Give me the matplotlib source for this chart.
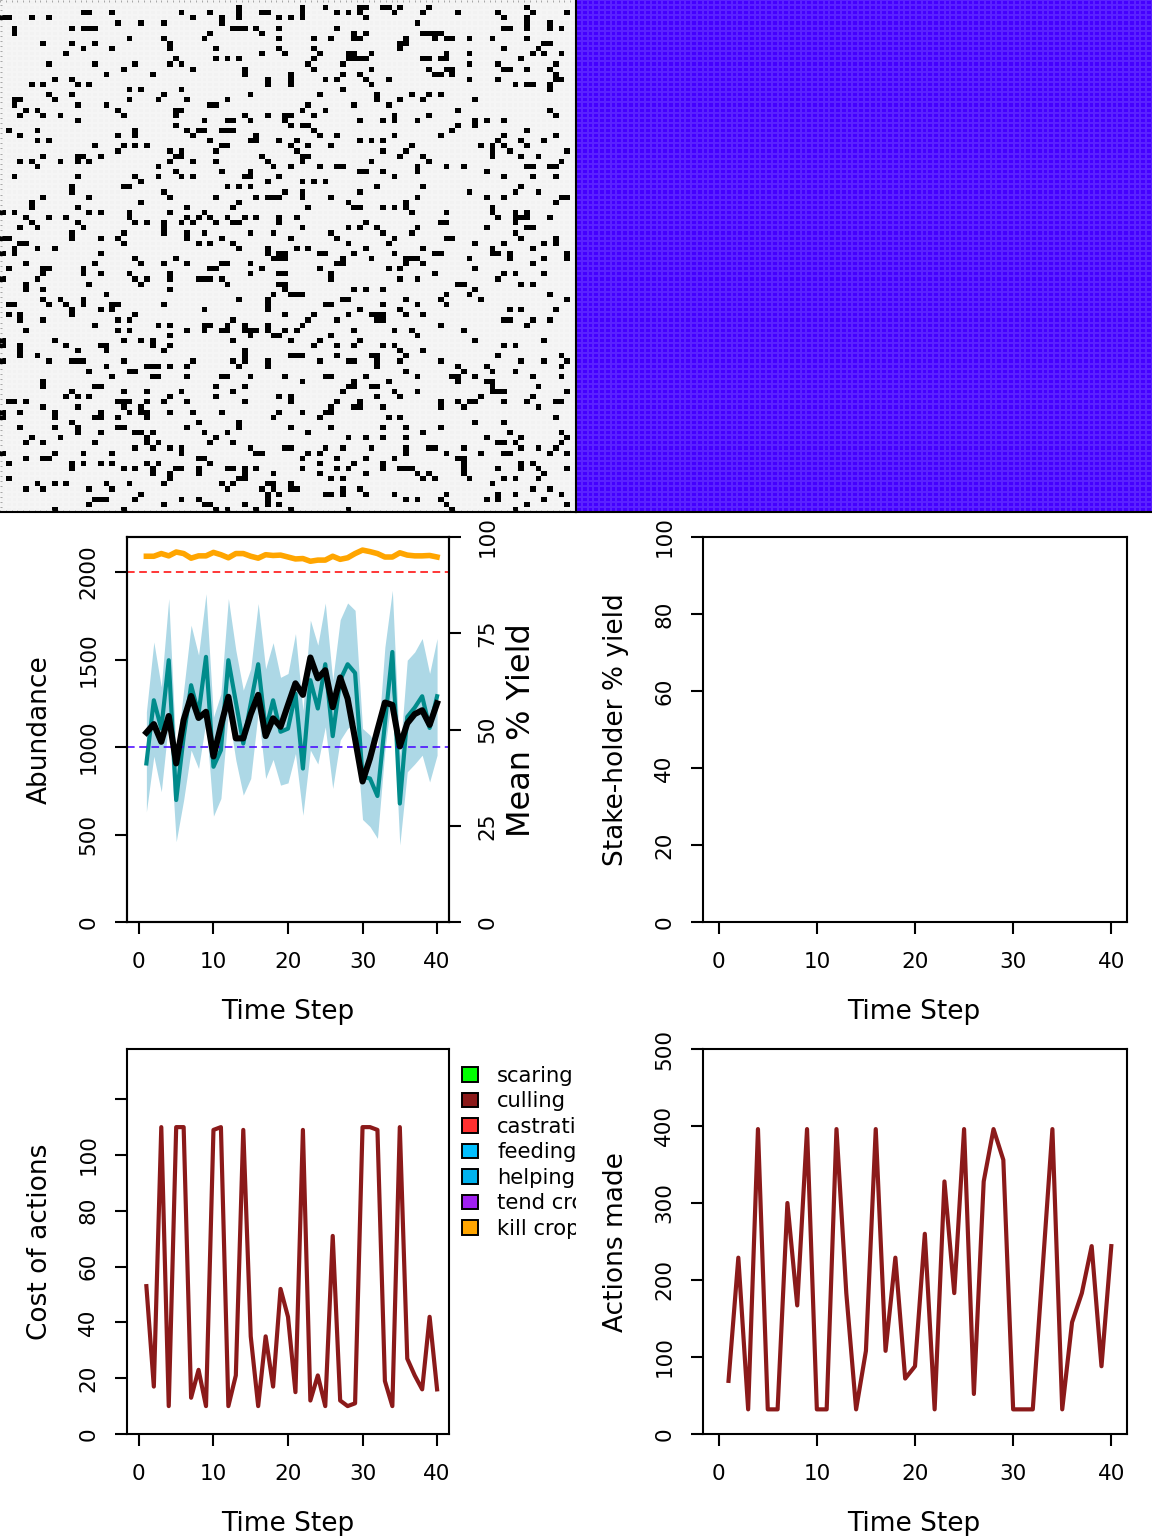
import numpy as np
import matplotlib
matplotlib.use("Agg")
import matplotlib.pyplot as plt
from matplotlib.patches import Patch
from matplotlib.transforms import Bbox, IdentityTransform, TransformedBbox

plt.rcParams["font.family"] = "DejaVu Sans"
plt.rcParams["font.size"] = 15.5

W, H = 1152, 1536

# >>>>>>>>>>>>>> landscape: columns of the black cells in each of the 100 rows (left half, right half)
left_rows = [
    [], [41], [14, 15, 19, 31, 36, 41, 45, 46], [0, 1, 5, 8, 33, 38, 41, 48], [20, 24, 28, 38],
    [2, 12, 14, 15, 16, 40, 41, 42, 44, 48], [2, 36, 45], [22, 28, 35, 48], [7, 12, 16, 29], [14, 19, 29, 37, 48],
    [11, 45, 49], [30, 37, 39, 41], [8, 16, 23, 29, 31], [21, 33, 42], [18, 26, 42],
    [9, 12, 46], [5, 7, 13, 15, 46], [22, 24, 31], [8, 12, 28, 43], [2, 3, 9, 22, 27, 32, 39],
    [2, 13, 18, 36, 37], [4, 6, 20, 30, 31], [3, 7, 10, 21, 30, 42, 46, 49], [13, 35, 39, 40, 43, 49], [30],
    [1, 6, 23, 32, 34, 35, 38, 39, 40], [3, 20, 23, 33, 44], [6, 8, 36, 43, 44, 48], [16, 21, 23, 25, 38, 39], [20, 29, 31, 37],
    [7, 13, 14, 17, 30, 31, 45], [3, 5, 10, 13, 15, 29, 33, 37, 46], [6, 27, 47], [30, 38, 43], [2, 13, 23, 27, 31, 33, 42, 43, 48],
    [24, 46], [12, 21, 22, 39, 41, 43], [12, 28, 49], [7, 15, 29, 37, 44, 46, 47, 48], [5, 24, 41],
    [5, 13, 32, 40], [0, 2, 15, 17, 22, 29, 35], [4, 8, 11, 22, 32, 34, 36, 39, 42, 44, 48], [5, 13, 23, 25, 28, 31, 33, 37, 40, 41, 48], [3, 6, 14, 28],
    [12, 21, 28, 32, 35, 43, 47], [0, 1, 12, 17, 20, 32, 38], [3, 4, 21, 34, 36, 40], [2, 6, 9, 41, 46], [0, 2, 17, 46, 48, 49],
    [23, 30, 47, 48, 49], [4, 16, 24, 28, 32, 38, 39, 43], [1, 7, 8, 14, 36, 37, 45], [7, 14, 17, 22, 29, 43, 48, 49], [0, 6, 23, 25, 29, 34, 35, 36, 38],
    [4, 15, 24, 39, 48, 49], [4, 7, 29, 49], [18, 47], [7, 10, 14, 41, 46], [1, 2, 8, 11, 14, 19, 20, 28, 46],
    [12, 17, 19, 35, 46], [1, 3, 12, 23, 49], [3, 7, 20, 22, 40], [16, 27, 29, 35, 36, 39, 42, 46], [4, 20, 22, 32, 35, 38, 39, 42, 43, 44, 46, 49],
    [29, 43, 47, 48], [0, 9, 21, 24, 26, 40], [0, 3, 11, 17, 18, 26, 29], [3, 13, 18, 28, 42], [3, 6, 42],
    [0, 8, 12, 13, 14, 21, 33, 40, 42, 46], [18, 25, 26, 27, 29, 32, 41, 46], [15, 22, 23], [19, 26, 27, 32, 38, 39, 43, 49], [7],
    [7, 16, 17, 37, 42], [12, 21, 25, 31, 40], [11, 13, 15, 29, 37, 48], [1, 2, 4, 20, 21, 22, 25, 28, 32, 42], [7, 13, 21, 24],
    [0, 3, 9, 17, 22, 24, 25, 29, 33, 38, 48], [0, 9, 16, 17, 20, 25, 47], [12, 34, 41], [3, 9, 13, 20, 21, 32, 41], [13, 17, 23, 24, 26, 35, 39],
    [5, 10, 25, 37], [4, 7, 16, 25, 27, 36, 40], [23, 26, 29, 31, 43, 49], [0, 9, 14, 19, 31, 44, 45], [4, 7, 8, 34, 35],
    [1, 12, 14, 17, 19, 25, 27, 36], [12, 21, 23, 26, 30, 31, 34, 39, 40, 42, 44], [26, 29, 34, 42, 47], [1, 29, 41, 42], [6, 9, 11, 18, 22, 28, 38, 40, 46, 47],
    [4, 7, 15, 19, 39, 45, 47], [24, 46, 48], [16, 17, 18, 23, 31, 34, 46], [15, 28, 35, 36, 42, 46, 48], [9, 21, 37, 39, 44],
]
right_rows = [
    [], [2, 6, 12, 13, 16, 17, 19, 24, 41], [2, 8, 10, 12, 18, 23, 29, 36, 42, 48], [0, 2, 13, 37, 41], [22, 41, 45],
    [8, 37, 38, 41, 45, 47], [11, 13, 23, 24, 25, 26], [4, 7, 11, 12, 20, 25, 27, 28, 31, 35, 41], [19, 20, 44, 45], [4, 19, 37, 43],
    [5, 10, 11, 14, 27, 31, 42, 44, 47], [4, 10, 11, 12, 13, 23, 24, 26, 27, 40], [3, 9, 31, 36, 46], [4, 14, 24, 27, 28, 37, 38, 41, 45], [0, 9, 12, 25, 26, 28, 46],
    [0, 6, 8, 13, 17, 31, 36, 46, 47], [0, 14, 39, 41, 42, 45], [9, 45], [5, 15, 21, 24, 26], [15, 19, 23, 32],
    [3, 11, 17], [2, 6, 29, 45], [0, 4, 18, 24, 46], [12, 16, 18, 22, 32, 34, 37], [0, 2, 3, 29, 32],
    [4, 28, 41], [5, 8, 18, 26, 37, 46], [1, 12, 14, 16, 36, 40, 44], [0, 3, 7, 21, 33, 35, 37, 41], [1, 16, 20, 35, 38, 48],
    [2, 3, 19, 23, 35, 40, 43], [2, 14, 24, 47], [0, 5, 8, 9, 22, 27, 30, 41, 42, 45, 46], [12, 13, 16, 22, 34], [18, 37, 42, 46],
    [2, 4, 6], [15, 23, 40], [2, 12, 31, 39, 43], [2, 7, 22, 34, 37, 47, 48], [10, 20, 46],
    [3, 11, 12, 16, 18, 20, 35], [21, 27, 35, 39, 41], [1, 36, 39, 40, 41, 45], [13, 26, 27, 39], [2, 10, 12, 15, 22, 34, 41, 42],
    [7, 16, 21, 39], [0, 8, 18, 27, 28, 40, 46], [10, 17, 32, 37, 44, 46], [1, 3, 13, 23, 35, 42], [5, 6, 11, 18, 25, 26, 35, 36, 38, 48],
    [9, 14, 20, 21, 22, 31, 38, 44, 48], [8, 9, 20, 23, 42], [5, 17, 19, 32], [7, 25, 37, 39, 44], [7, 19, 22, 36],
    [29, 30, 40, 42], [11, 13, 16, 32], [0, 1, 2, 27, 31, 45], [9, 10, 20, 26, 33, 48], [6, 7, 16, 22, 27],
    [12, 19, 38, 40, 46], [4, 10, 14, 15, 16, 20, 23], [3, 8, 15, 16, 37, 38, 42, 45], [2, 26, 41], [1, 11, 18, 21, 30],
    [7, 22], [0, 5, 12, 32, 44], [4, 8, 11, 16, 18, 37, 39], [19, 23], [0, 1, 2, 8, 14, 15, 20, 36, 47],
    [5, 10, 11, 15, 19, 26, 40, 44, 48], [15, 29, 34, 47], [20, 30, 35, 39], [6, 7, 13, 22, 28, 29, 32, 42, 47], [2, 11, 17, 29, 34, 35],
    [10, 11, 14, 15, 35, 43], [9, 18, 22, 35, 36, 37, 48], [0, 15, 19, 33, 42], [0, 8, 12, 26, 29, 31, 32, 37, 41, 46, 47], [7, 11, 12, 16, 26, 30, 43],
    [2, 6, 7], [5, 17, 19, 46], [32, 37], [0, 7, 16, 20, 26], [3, 23, 38, 47],
    [10, 13, 16, 20, 34, 40, 48], [36, 37, 39, 47], [0, 6, 9, 14, 20, 24, 25, 30, 40, 43, 46], [3, 5, 20, 27, 33, 37, 38, 45, 48], [2, 8, 13, 18, 29, 30],
    [5, 11, 16, 30, 40, 42], [2, 8, 10, 16, 19, 20, 21, 30, 36, 40, 43, 48], [5, 13, 22, 24, 30, 44], [7, 9, 23, 25, 31, 37, 39, 43], [0, 35],
    [0, 1, 9, 12, 42, 45], [6, 7, 9, 13, 18, 27, 36, 39, 47], [20, 22, 26, 34, 36, 44], [27, 41, 48], [0, 10, 28, 39],
]

# >>>>>>>>>>>>>> population panel
time_step = list(range(1, 41))
abundance = [906, 1267, 1105, 1496, 697, 1058, 1353, 1191, 1515, 887,
             982, 1496, 1258, 1020, 1248, 1473, 1097, 1267, 1087, 1105,
             1305, 877, 1382, 1220, 1473, 1062, 1382, 1473, 1423, 830,
             820, 720, 1134, 1543, 677, 1172, 1225, 1290, 1109, 1290]
abundance_upper = [1200, 1600, 1343, 1848, 950, 1325, 1696, 1525, 1876, 1170,
                   1305, 1848, 1553, 1325, 1447, 1820, 1447, 1596, 1398, 1420,
                   1648, 1210, 1725, 1582, 1823, 1382, 1727, 1823, 1781, 1106,
                   1068, 1000, 1572, 1895, 950, 1496, 1543, 1620, 1420, 1620]
abundance_lower = [630, 947, 744, 1150, 459, 697, 982, 877, 1150, 605,
                   706, 1200, 925, 725, 820, 1200, 820, 929, 782, 795,
                   963, 610, 982, 903, 1115, 763, 1039, 1106, 1134, 586,
                   545, 478, 982, 1325, 440, 858, 903, 953, 800, 953]
mean_yield = [49.2, 51.4, 46.8, 53.5, 41.2, 52.5, 58.7, 53.0, 54.6, 43.0,
              51.0, 58.5, 47.7, 47.7, 54.0, 59.0, 48.3, 52.9, 50.7, 56.4,
              62.0, 59.0, 68.7, 63.3, 65.4, 55.8, 63.5, 58.0, 47.5, 36.5,
              42.5, 49.9, 57.0, 56.4, 45.6, 51.6, 54.0, 55.0, 51.2, 56.8]
top_yield = [95.0, 95.0, 95.7, 95.1, 96.1, 95.7, 94.5, 95.1, 95.1, 96.0,
             95.4, 94.6, 95.7, 95.7, 95.0, 94.5, 95.4, 95.2, 95.3, 94.8,
             94.3, 94.4, 93.7, 94.0, 94.0, 95.0, 94.2, 94.6, 95.7, 96.6,
             96.2, 95.7, 94.8, 94.8, 95.9, 95.3, 95.1, 95.1, 95.2, 94.8]
carrying_line = 2000
target_line = 1000

# >>>>>>>>>>>>>> actions
action_cost = [53, 17, 110, 10, 110, 110, 13, 23, 10, 109,
               110, 10, 21, 109, 35, 10, 35, 17, 52, 42,
               15, 109, 12, 21, 10, 71, 12, 10, 11, 110,
               110, 109, 19, 10, 110, 27, 21, 16, 42, 16]
actions_made = [69, 229, 32, 396, 32, 32, 300, 167, 396, 32,
                32, 396, 183, 32, 108, 396, 108, 229, 72, 88,
                260, 32, 328, 183, 396, 52, 328, 396, 356, 32,
                32, 32, 214, 396, 32, 145, 183, 244, 88, 244]

legend_labels = ["scaring", "culling", "castration", "feeding", "helping", "tend crops", "kill crops"]
legend_colors = ["#00FF00", "#8B1A1A", "#FF3030", "#00BFFF", "#00B2EE", "#A020F0", "#FFA500"]


def make_axes(x0, y0, x1, y1):
    # pixel box, y measured from the top of the picture
    return fig.add_axes([x0 / W, 1 - y1 / H, (x1 - x0) / W, (y1 - y0) / H])


def style_panel(ax, yticks, ylim):
    ax.set_xlim(-1.6, 41.6)
    ax.set_ylim(*ylim)
    ax.set_xticks([0, 10, 20, 30, 40])
    ax.set_yticks(yticks)
    ax.tick_params(length=8.6, width=1.5, pad=12)
    ax.tick_params(axis="x", pad=13)
    for label in ax.get_yticklabels():
        label.set_rotation(90)
        label.set_va("center")
    for spine in ax.spines.values():
        spine.set_linewidth(1.5)


def label(x, y, text, size=19, rotation=0):
    fig.text(x / W, 1 - y / H, text, fontsize=size, rotation=rotation, ha="center", va="center")


fig = plt.figure(figsize=(11.52, 15.36), dpi=100)

# >>>>>>>>>>>>>> landscape images
land = np.zeros((100, 100))
for r in range(100):
    land[r, left_rows[r]] = 1
    land[r, [c + 50 for c in right_rows[r]]] = 1
owners = np.ones((100, 100))

ax_land = make_axes(0, 0, 576, 512)
# background with faint seams, black cells on top so the seams do not eat them
ax_land.pcolormesh(np.zeros((100, 100)), cmap=matplotlib.colors.ListedColormap(["#F2F2F2"]),
                   edgecolors="#F5F5F5", linewidth=0.3)
ax_land.pcolormesh(np.ma.masked_where(land == 0, land), cmap=matplotlib.colors.ListedColormap(["#000000"]))
ax_owner = make_axes(576, 0, 1152, 512)
ax_owner.pcolormesh(owners, cmap=matplotlib.colors.ListedColormap(["#4400FF"]),
                    edgecolors="#5A22FF", linewidth=0.2)
for ax in (ax_land, ax_owner):
    ax.set_ylim(100, 0)
    ax.set_xticks([])
    ax.set_yticks([])
    for spine in ax.spines.values():
        spine.set_visible(False)
    ax.spines["bottom"].set_visible(True)
    ax.spines["bottom"].set_linewidth(1.5)
ax_owner.spines["left"].set_visible(True)
ax_owner.spines["left"].set_linewidth(1.5)
ax_land.set_xticks(np.arange(0, 101))
ax_land.set_yticks(np.arange(0, 101))
ax_land.tick_params(direction="in", length=1.2, width=0.6, color="#999999", top=True, bottom=True,
                    left=True, labelbottom=False, labelleft=False)

# >>>>>>>>>>>>>> abundance and yield
ax3 = make_axes(127, 537, 449, 922)
ax3.fill_between(time_step, abundance_lower, abundance_upper, color="#ADD8E6", linewidth=0)
ax3.plot(time_step, abundance, color="#008B8B", lw=3.0)
ax3.axhline(carrying_line, color="red", lw=1.1, ls=(0, (5, 3)))
ax3.axhline(target_line, color="#4400FF", lw=1.1, ls=(0, (5, 3)))
style_panel(ax3, [0, 500, 1000, 1500, 2000], (0, 2200))
ax3b = ax3.twinx()
ax3b.plot(time_step, top_yield, color="orange", lw=4.0)
ax3b.plot(time_step, mean_yield, color="black", lw=4.4)
ax3b.set_ylim(0, 100)
ax3b.set_yticks([0, 25, 50, 75, 100])
ax3b.tick_params(length=8.6, width=1.5, pad=12)
for t in ax3b.get_yticklabels():
    t.set_rotation(90)
    t.set_va("center")
for spine in ax3b.spines.values():
    spine.set_linewidth(1.5)
label(40, 730, "Abundance", rotation=90)
label(521, 730, "Mean % Yield", size=23, rotation=90)
label(288, 1012, "Time Step")

# >>>>>>>>>>>>>> stake-holder yield, nothing drawn in it
ax4 = make_axes(703, 537, 1127, 922)
style_panel(ax4, [0, 20, 40, 60, 80, 100], (0, 100))
label(616, 730, "Stake-holder % yield", rotation=90)
label(914, 1012, "Time Step")

# >>>>>>>>>>>>>> cost of actions
ax5 = make_axes(127, 1049, 449, 1434)
ax5.plot(time_step, action_cost, color="#8B1A1A", lw=3.0)
style_panel(ax5, [0, 20, 40, 60, 80, 100, 120], (0, 138))
ax5.set_yticklabels(["0", "20", "40", "60", "80", "100", ""])
for t in ax5.get_yticklabels():
    t.set_rotation(90)
    t.set_va("center")
label(40, 1242, "Cost of actions", rotation=90)
label(288, 1524, "Time Step")

handles = [Patch(facecolor=c, edgecolor="black", linewidth=1.4) for c in legend_colors]
leg = ax5.legend(handles, legend_labels, loc="upper left", frameon=False,
                 bbox_to_anchor=(462 / W, 1 - 1066 / H), bbox_transform=fig.transFigure,
                 borderpad=0, borderaxespad=0, handlelength=0.76, handleheight=0.66,
                 handletextpad=0.9, labelspacing=0.26, fontsize=15.2)
clip = TransformedBbox(Bbox([[0, 0], [576, H]]), IdentityTransform())
for t in leg.get_texts():
    t.set_clip_on(True)
    t.set_clip_box(clip)

# >>>>>>>>>>>>>> actions made
ax6 = make_axes(703, 1049, 1127, 1434)
ax6.plot(time_step, actions_made, color="#8B1A1A", lw=3.0)
style_panel(ax6, [0, 100, 200, 300, 400, 500], (0, 500))
label(616, 1242, "Actions made", rotation=90)
label(914, 1524, "Time Step")

fig.savefig("out.png", dpi=100)
